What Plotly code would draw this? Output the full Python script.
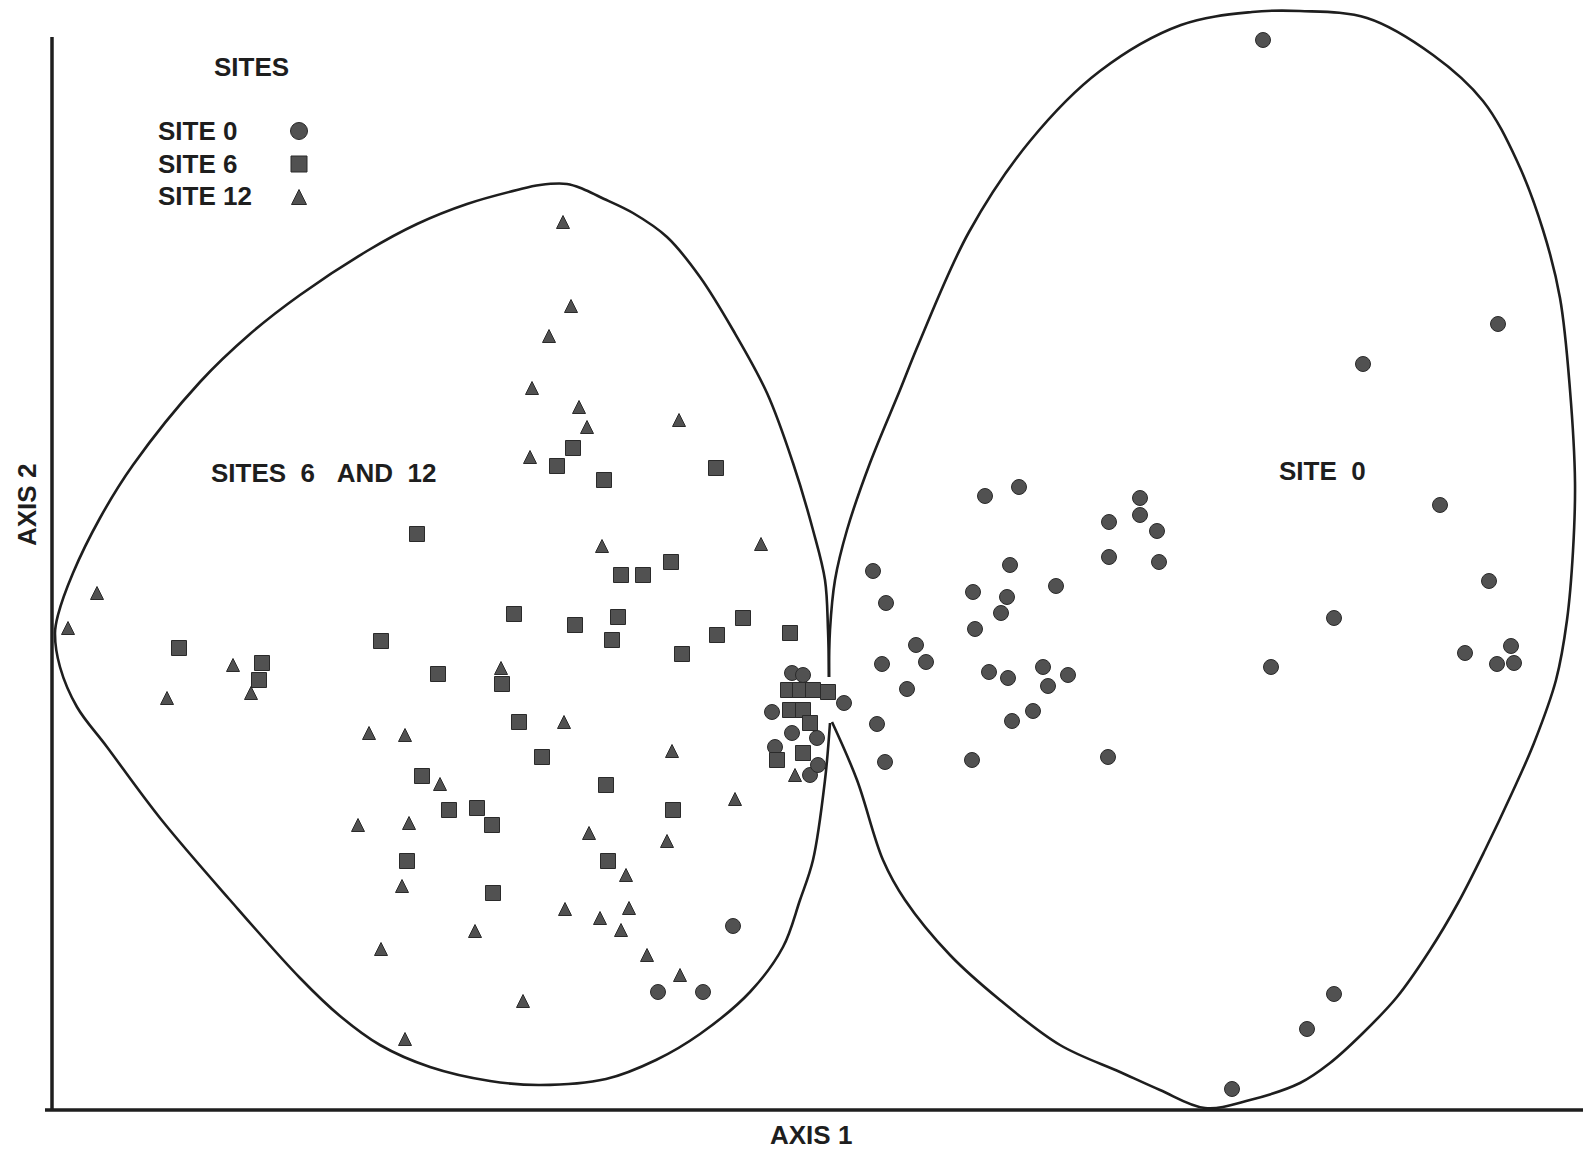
import plotly.graph_objects as go

# ---------------- data (digitised ordination scores, image units) ----------------
# Axis 1 score (x) and Axis 2 score (y); y measured up from the Axis-1 line.

site0_axis1 = [1263, 1498, 1363, 1440, 1489, 1334, 1271, 1465, 1511, 1497, 1514,
               1334, 1307, 1232,
               985, 1019, 1140, 1109, 1140, 1157, 1109, 1159, 873, 1010, 1056, 973,
               1007, 1001, 886, 975, 916, 926, 882, 907, 989, 1008, 1043, 1068,
               1048, 1033, 1012, 844, 877, 885, 972, 1108,
               733, 658, 703,
               792, 803, 772, 792, 775, 817, 810, 818]
site0_axis2 = [1070, 786, 746, 605, 529, 492, 443, 457, 464, 446, 447,
               116, 81, 21,
               614, 623, 612, 588, 595, 579, 553, 548, 539, 545, 524, 518,
               513, 497, 507, 481, 465, 448, 446, 421, 438, 432, 443, 435,
               424, 399, 389, 407, 386, 348, 350, 353,
               184, 118, 118,
               437, 435, 398, 377, 363, 372, 335, 345]

site6_axis1 = [573, 557, 604, 716, 417, 671, 621, 643, 514, 381, 575, 618, 612,
               717, 743, 790, 682, 438, 502, 519, 542, 606, 422, 449, 477, 492,
               673, 407, 608, 493, 179, 262, 259,
               788, 800, 813, 828, 790, 803, 810, 777, 803]
site6_axis2 = [662, 644, 630, 642, 576, 548, 535, 535, 496, 469, 485, 493, 470,
               475, 492, 477, 456, 436, 426, 388, 353, 325, 334, 300, 302, 285,
               300, 249, 249, 217, 462, 447, 430,
               420, 420, 420, 418, 400, 400, 387, 350, 357]

site12_axis1 = [97, 68, 233, 167, 251, 563, 571, 549, 532, 579, 587, 530, 679,
                602, 761, 501, 564, 369, 405, 672, 440, 735, 358, 409, 589, 667,
                626, 402, 565, 629, 600, 621, 475, 381, 647, 680, 523, 405, 795]
site12_axis2 = [517, 482, 445, 412, 417, 888, 804, 774, 722, 703, 683, 653, 690,
                564, 566, 442, 388, 377, 375, 359, 326, 311, 285, 287, 277, 269,
                235, 224, 201, 202, 192, 180, 179, 161, 155, 135, 109, 71, 335]

# hand-drawn group envelopes
env_left_axis1 = [829, 828, 825, 813, 793, 767, 733, 700, 667, 633, 600, 583, 567,
                  540, 517, 467, 417, 367, 300, 250, 200, 133, 100, 73, 58, 55, 60,
                  77, 107, 160, 230, 300, 340, 380, 430, 490, 540, 606, 656, 700,
                  750, 783, 800, 813, 825, 830]
env_left_axis2 = [433, 480, 530, 580, 647, 717, 780, 833, 873, 897, 913, 921, 926,
                  925, 920, 906, 886, 859, 815, 776, 728, 645, 592, 537, 495, 477,
                  443, 403, 363, 292, 210, 132, 94, 65, 43, 29, 25, 31, 50, 76,
                  118, 163, 210, 250, 330, 387]

env_right_axis1 = [829, 830, 835, 847, 870, 900, 919, 969, 1030, 1100, 1181, 1252,
                   1300, 1367, 1433, 1483, 1517, 1543, 1560, 1570, 1575, 1573, 1567,
                   1556, 1534, 1512, 1485, 1458, 1430, 1397, 1363, 1330, 1300,
                   1250, 1205, 1160, 1120, 1060, 1000, 950, 905, 883, 857, 832]
env_right_axis2 = [433, 480, 530, 580, 647, 720, 767, 878, 969, 1039, 1085, 1098,
                   1099, 1092, 1055, 1009, 949, 880, 812, 720, 628, 559, 490,
                   430, 367, 317, 260, 207, 160, 113, 77, 47, 27,
                   10, 2, 20, 38, 65, 110, 155, 210, 250, 330, 388]

legend_labels = ["SITE 0", "SITE 6", "SITE 12"]

# ---------------- figure ----------------
W, H = 1583, 1153          # picture size
Y0 = 1110                  # picture row of the Axis-1 line
INK = "#1e1e1e"
FILL = "#515151"
TRI = 13                   # triangle marker size (tip-anchored arrow symbol)
font = dict(family="Liberation Sans, Arial, sans-serif", size=26, color="#1e1e1e")

fig = go.Figure()

for xs, ys in [(env_left_axis1, env_left_axis2), (env_right_axis1, env_right_axis2)]:
    fig.add_trace(go.Scatter(x=xs, y=ys, mode="lines",
                             line=dict(color=INK, width=2.6, shape="spline", smoothing=1.0),
                             hoverinfo="skip", showlegend=False))

mk_line = dict(color="#2a2a2a", width=1)
fig.add_trace(go.Scatter(x=site0_axis1, y=site0_axis2, mode="markers", name="SITE 0",
                         marker=dict(symbol="circle", size=15, color=FILL, line=mk_line),
                         showlegend=False, cliponaxis=False))
fig.add_trace(go.Scatter(x=site6_axis1, y=site6_axis2, mode="markers", name="SITE 6",
                         marker=dict(symbol="square", size=15, color=FILL, line=mk_line),
                         showlegend=False, cliponaxis=False))
fig.add_trace(go.Scatter(x=site12_axis1, y=site12_axis2, mode="markers", name="SITE 12",
                         marker=dict(symbol="arrow-up", size=TRI, color=FILL, line=mk_line),
                         yaxis="y2", showlegend=False, cliponaxis=False))

# hand-made legend (symbols to the right of the labels, as in the original)
leg_x_text, leg_x_sym = 156, 299
leg_rows = [Y0 - 131, Y0 - 164, Y0 - 196]
fig.add_trace(go.Scatter(x=[leg_x_sym], y=[leg_rows[0]], mode="markers",
                         marker=dict(symbol="circle", size=17, color=FILL, line=mk_line),
                         hoverinfo="skip", showlegend=False, cliponaxis=False))
fig.add_trace(go.Scatter(x=[leg_x_sym], y=[leg_rows[1]], mode="markers",
                         marker=dict(symbol="square", size=16, color=FILL, line=mk_line),
                         hoverinfo="skip", showlegend=False, cliponaxis=False))
fig.add_trace(go.Scatter(x=[leg_x_sym], y=[leg_rows[2]], mode="markers",
                         marker=dict(symbol="arrow-up", size=TRI + 2, color=FILL, line=mk_line),
                         yaxis="y2", hoverinfo="skip", showlegend=False, cliponaxis=False))

annotations = [dict(x=251, y=Y0 - 67, text="<b>SITES</b>", xanchor="center", yanchor="middle")]
for lab, yy in zip(legend_labels, leg_rows):
    annotations.append(dict(x=leg_x_text, y=yy, text=f"<b>{lab}</b>", xanchor="left", yanchor="middle"))
annotations += [
    dict(x=323, y=Y0 - 473, text="<b>SITES\u00a0\u00a06\u00a0\u00a0\u00a0AND\u00a0\u00a012</b>",
         xanchor="center", yanchor="middle"),
    dict(x=1322, y=Y0 - 471, text="<b>SITE\u00a0\u00a00</b>", xanchor="center", yanchor="middle"),
    dict(x=811, y=Y0 - 1135, text="<b>AXIS 1</b>", xanchor="center", yanchor="middle"),
    dict(x=27, y=Y0 - 505, text="<b>AXIS 2</b>", textangle=-90, xanchor="center", yanchor="middle"),
]
for a in annotations:
    a.update(xref="x", yref="y", showarrow=False, font=font)

shapes = [
    dict(type="line", x0=52, x1=52, y0=0, y1=Y0 - 37, xref="x", yref="y",
         line=dict(color=INK, width=3.5)),
    dict(type="line", x0=45, x1=W, y0=0, y1=0, xref="x", yref="y",
         line=dict(color=INK, width=3.5)),
]

y_lo, y_hi = Y0 - H, Y0
fig.update_layout(
    width=W, height=H,
    margin=dict(l=0, r=0, t=0, b=0),
    paper_bgcolor="white", plot_bgcolor="white",
    xaxis=dict(range=[0, W], visible=False, fixedrange=True),
    yaxis=dict(range=[y_lo, y_hi], visible=False, fixedrange=True),
    # the arrow symbol is anchored at its tip: lift its axis by half the symbol
    yaxis2=dict(range=[y_lo - TRI / 2, y_hi - TRI / 2], overlaying="y",
                visible=False, fixedrange=True),
    annotations=annotations, shapes=shapes,
)

fig.write_html("out.html", config={"displayModeBar": False},
               post_script="document.body.style.margin='0px';document.body.style.overflow='hidden';")
